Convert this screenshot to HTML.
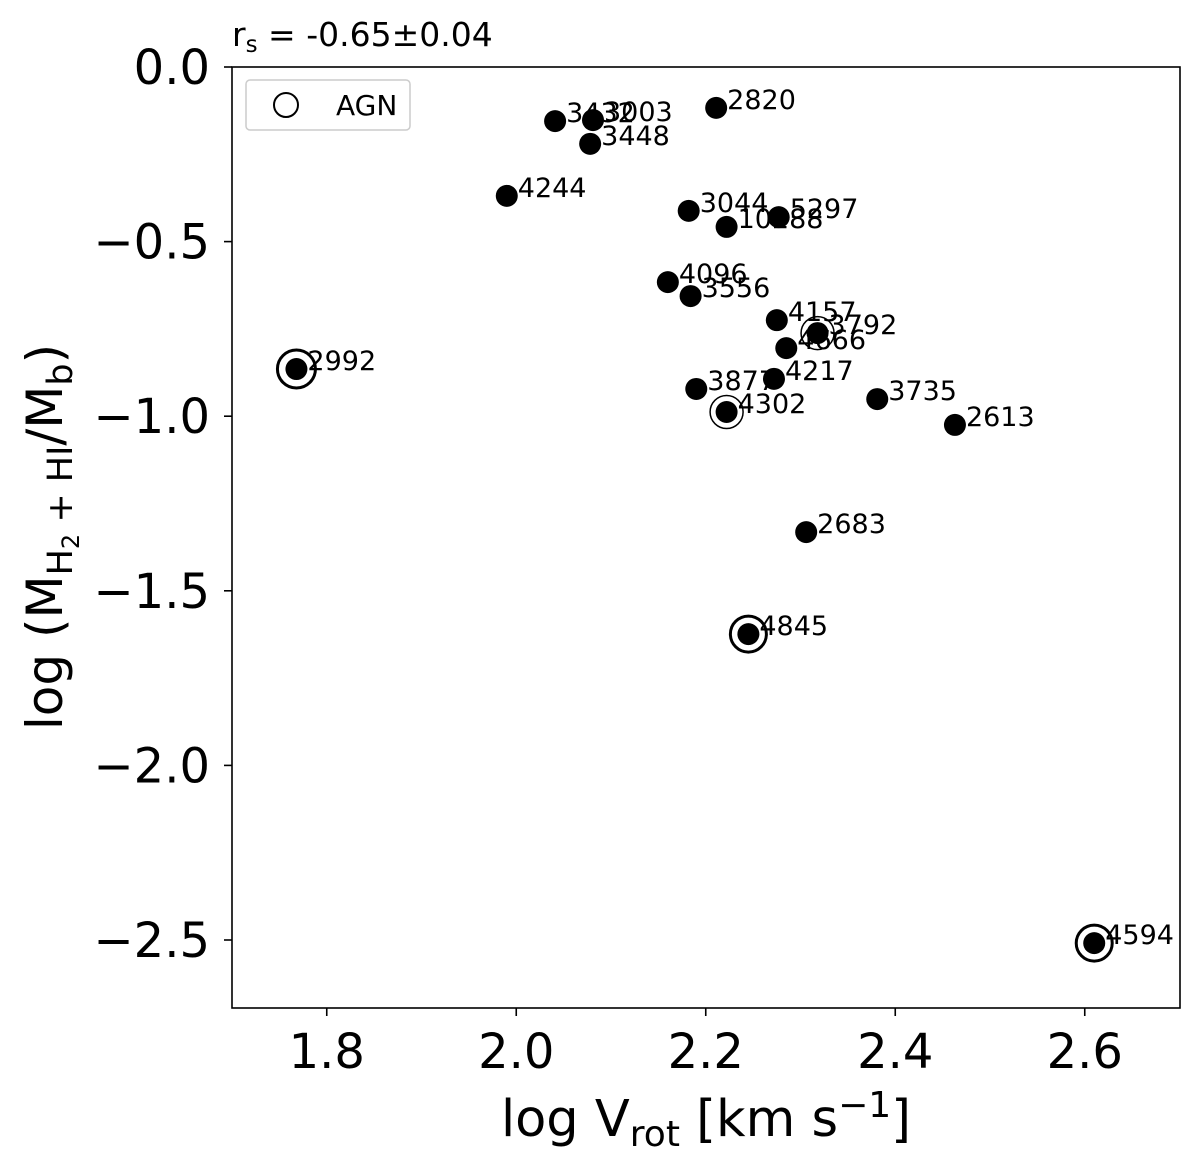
<!DOCTYPE html>
<html><head><meta charset="utf-8"><style>
body{margin:0;background:#fff}
svg text{font-family:"DejaVu Sans","Liberation Sans",sans-serif}
</style></head><body>
<svg id="chart" width="1200" height="1169" viewBox="0 0 1200 1169" xmlns="http://www.w3.org/2000/svg">
<rect x="0" y="0" width="1200" height="1169" fill="#fff"/>
<g id="marks"></g>
<rect x="232" y="67" width="948" height="941" fill="none" stroke="#000" stroke-width="1.6"/>
<g id="axes"></g>
<text x="232" y="46" font-size="33">r<tspan font-size="23" dy="6">s</tspan><tspan dy="-6"> = -0.65±0.04</tspan></text>
<g>
<rect x="246" y="80" width="164" height="50" rx="4" fill="#fff" stroke="#ccc" stroke-width="1.5"/>
<circle cx="286" cy="105" r="12" fill="none" stroke="#000" stroke-width="2"/>
<text x="336" y="115" font-size="28">AGN</text>
</g>
<text x="706" y="1136" font-size="51" text-anchor="middle">log V<tspan font-size="36" dy="10">rot</tspan><tspan dy="-10"> [km s</tspan><tspan font-size="36" dy="-19">−1</tspan><tspan dy="19">]</tspan></text>
<text transform="translate(62,537) rotate(-90)" font-size="50" text-anchor="middle">log (M<tspan font-size="35" dy="10">H</tspan><tspan font-size="24" dy="7">2</tspan><tspan font-size="35" dy="-7"> + HI</tspan><tspan dy="-10">/M</tspan><tspan font-size="35" dy="10">b</tspan><tspan dy="-10">)</tspan></text>
</svg>
<script>
const names=["2992","3432","3003","3448","2820","4244","3044","5297","10288","4096","3556","4157","3792","4666","4217","3877","3735","4302","2613","2683","4845","4594"];
const logV=[1.768,2.041,2.081,2.078,2.211,1.990,2.182,2.277,2.222,2.160,2.184,2.275,2.318,2.285,2.272,2.190,2.381,2.222,2.463,2.306,2.245,2.610];
const logF=[-0.865,-0.155,-0.152,-0.220,-0.117,-0.369,-0.412,-0.430,-0.458,-0.616,-0.656,-0.725,-0.762,-0.805,-0.893,-0.922,-0.951,-0.988,-1.025,-1.332,-1.624,-2.509];
const agnType=["big","","","","","","","","","","","","thin","","","","","thin","","","thick","thick"];
const xTicks=[1.8,2.0,2.2,2.4,2.6];
const xTickLabels=["1.8","2.0","2.2","2.4","2.6"];
const yTicks=[0,-0.5,-1,-1.5,-2,-2.5];
const yTickLabels=["0.0","−0.5","−1.0","−1.5","−2.0","−2.5"];
const X=v=>232+(v-1.7)*947.5;
const Y=v=>67-v*349.2;
const NS="http://www.w3.org/2000/svg";
function mk(t,a,p){const e=document.createElementNS(NS,t);for(const k in a)e.setAttribute(k,a[k]);p.appendChild(e);return e;}
const marks=document.getElementById('marks'),axes=document.getElementById('axes');
for(let i=0;i<names.length;i++){
 const cx=X(logV[i]),cy=Y(logF[i]);
 const t=agnType[i];
 if(t){
  const r=t==="big"?19:(t==="thick"?18:16.5);
  const ring=mk('circle',{cx:cx,cy:cy,r:r,fill:'none',stroke:'#000','stroke-width':t==="thin"?1.5:3},marks);
  
  
 }
 const c=mk('circle',{cx:cx,cy:cy,r:11,fill:'#000'},marks);
 
 
 const tx=mk('text',{x:cx+11,y:cy+1,'font-size':27},marks);
 tx.textContent=names[i];
 
 
}
xTicks.forEach((v,i)=>{
 const x=X(v);
 const l=mk('line',{x1:x,x2:x,y1:1008,y2:1016,stroke:'#000','stroke-width':1.6},axes);
 
 
 const t=mk('text',{x:x,y:1068,'font-size':48,'text-anchor':'middle'},axes);
 t.textContent=xTickLabels[i];
 
 
});
yTicks.forEach((v,i)=>{
 const y=Y(v);
 const l=mk('line',{x1:224,x2:232,y1:y,y2:y,stroke:'#000','stroke-width':1.6},axes);
 
 
 const t=mk('text',{x:210,y:y+17,'font-size':48,'text-anchor':'end'},axes);
 t.textContent=yTickLabels[i];
 
 
});
</script>
</body></html>
